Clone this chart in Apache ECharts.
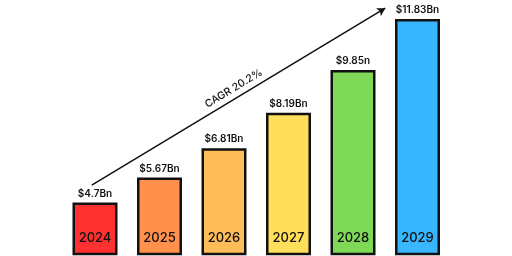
<!DOCTYPE html>
<html><head><meta charset="utf-8">
<script src="https://cdn.jsdelivr.net/npm/echarts@6/dist/echarts.min.js"></script>
<style>html,body{margin:0;padding:0;background:#fff}#c{width:512px;height:256px}</style>
</head><body><div id="c"></div>
<script>
const years = ["2024","2025","2026","2027","2028","2029"];
const values = [4.7, 5.67, 6.81, 8.19, 9.85, 11.83];
const valueLabels = ["$4.7Bn","$5.67Bn","$6.81Bn","$8.19Bn","$9.85n","$11.83Bn"];
const colors = ["#FF3131","#FF914D","#FFBD59","#FFDE59","#7ED957","#38B6FF"];
const cagrText = "CAGR 20.2%";
const arrowFrom = [-0.05, 5.38];
const arrowTo = [4.5, 12.25];

const chart = echarts.init(document.getElementById('c'), null, {renderer:'canvas'});
chart.setOption({
  animation:false,
  backgroundColor:'#fff',
  grid:{left:62.75, right:62.25, top:4, bottom:2},
  xAxis:[{
    type:'category', data:years, z:10,
    axisLine:{show:false}, axisTick:{show:false},
    axisLabel:{inside:true, margin:9, color:'#111', fontSize:13, fontFamily:'Inter', fontWeight:500}
  },{
    type:'value', min:-0.5, max:5.5, show:false
  }],
  yAxis:{type:'value', min:2.7, max:12.413, show:false, splitLine:{show:false}},
  series:[{
    type:'bar', barWidth:45,
    data: values.map((v,i)=>({value:v, itemStyle:{color:colors[i]}})),
    itemStyle:{borderColor:'#111', borderWidth:2.5},
    label:{show:true, position:'top', distance:4, color:'#111', fontSize:10, fontFamily:'Inter', fontWeight:600,
      formatter:p=>valueLabels[p.dataIndex]}
  },{
    type:'scatter', xAxisIndex:1, data:[], silent:true,
    markLine:{
      silent:true, symbol:['none','arrow'], symbolSize:[7,8],
      lineStyle:{color:'#111', width:1.5, type:'solid'},
      label:{show:true, position:'middle', formatter:cagrText, color:'#111', fontSize:10.5, fontFamily:'Inter', fontWeight:500, distance:4},
      data:[[{coord:arrowFrom},{coord:arrowTo}]]
    }
  }]
});
</script></body></html>
